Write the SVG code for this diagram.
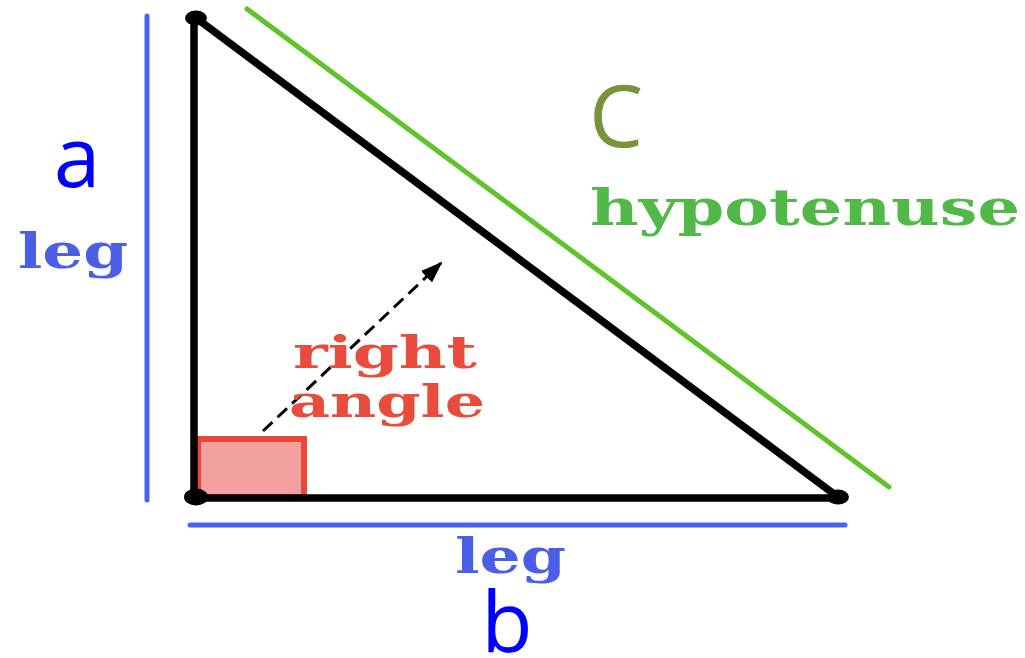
<svg xmlns="http://www.w3.org/2000/svg" width="1025" height="658" viewBox="0 0 1025 658">
<style>
.side{stroke:#000;stroke-width:7.5;stroke-linecap:round;fill:none}
.guide{stroke:#4a62f0;stroke-width:5;stroke-linecap:round}
.ser{font-family:"DejaVu Serif","Liberation Serif",serif;font-weight:bold}
.sans{font-family:"Open Sans","Liberation Sans",sans-serif}
</style>
<defs>
<marker id="ah" markerWidth="22" markerHeight="16" refX="20" refY="8" orient="auto" markerUnits="userSpaceOnUse" viewBox="0 0 22 16">
<path d="M0,0 L22,8 L0,16 z" fill="#000"/>
</marker>
</defs>
<rect width="1025" height="658" fill="#fff"/>
<g id="guides">
<line class="guide" x1="147" y1="16" x2="147" y2="500"/>
<line class="guide" x1="190" y1="525" x2="845" y2="525"/>
<line x1="247" y1="9" x2="889" y2="487" stroke="#5ec42a" stroke-width="5" stroke-linecap="round"/>
</g>
<g id="right-angle-mark">
<rect x="198" y="439" width="106" height="58" fill="#f3a0a0" stroke="#e8473a" stroke-width="6"/>
</g>
<g id="triangle">
<line class="side" x1="194" y1="18" x2="194" y2="498"/>
<line class="side" x1="194" y1="498" x2="838" y2="498"/>
<line class="side" x1="196" y1="18" x2="838" y2="497"/>
<ellipse cx="196" cy="18" rx="11" ry="7.5" fill="#000"/>
<ellipse cx="196" cy="497" rx="12" ry="8.5" fill="#000"/>
<ellipse cx="838" cy="497" rx="11" ry="7.5" fill="#000"/>
</g>
<g id="connectors">
<line x1="263" y1="431" x2="441" y2="263" stroke="#000" stroke-width="3" stroke-dasharray="13 7" marker-end="url(#ah)"/>
</g>
<g id="label-a">
<text class="sans" x="77" y="187" font-size="84" fill="#0000ff" text-anchor="middle">a</text>
<text class="ser" x="18" y="268" font-size="48" fill="#4a5ee6" textLength="110" lengthAdjust="spacingAndGlyphs">leg</text>
</g>
<g id="label-b">
<text class="ser" x="455" y="573" font-size="48" fill="#4a5ee6" textLength="111" lengthAdjust="spacingAndGlyphs">leg</text>
<text class="sans" x="507" y="652" font-size="84" fill="#0000ff" text-anchor="middle">b</text>
</g>
<g id="label-c">
<text class="sans" x="616" y="147" font-size="86" fill="#77933c" text-anchor="middle">C</text>
<text class="ser" x="590" y="225" font-size="50" fill="#52b848" textLength="430" lengthAdjust="spacingAndGlyphs">hypotenuse</text>
</g>
<g id="label-right-angle">
<text class="ser" x="293" y="368" font-size="44" fill="#e84c3c" textLength="184" lengthAdjust="spacingAndGlyphs">right</text>
<text class="ser" x="289" y="417" font-size="44" fill="#e84c3c" textLength="196" lengthAdjust="spacingAndGlyphs">angle</text>
</g>
</svg>
